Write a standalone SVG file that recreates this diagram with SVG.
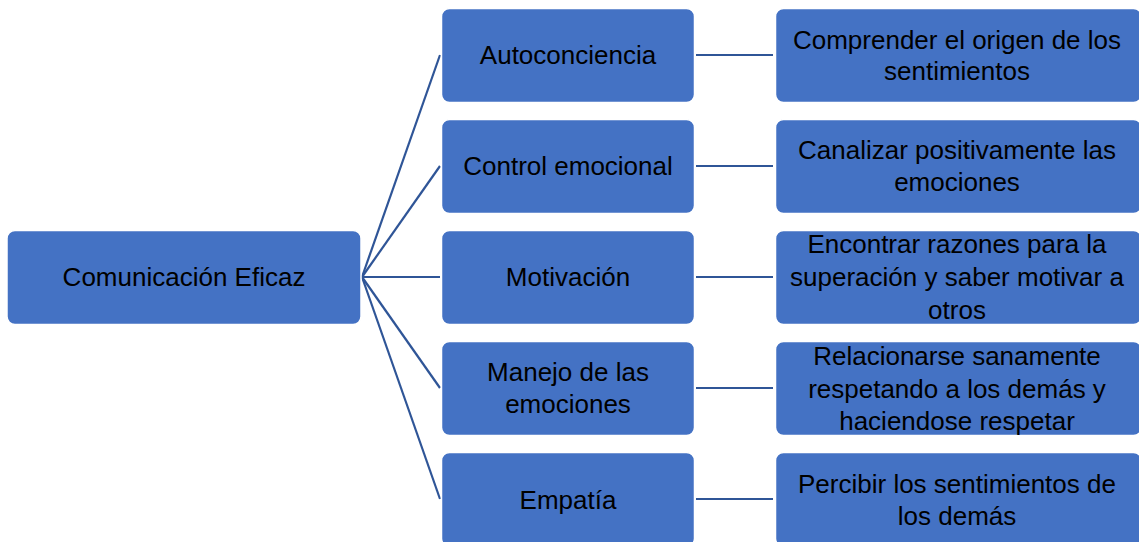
<svg xmlns="http://www.w3.org/2000/svg" width="1139" height="542" viewBox="0 0 1139 542">
<style>
.box{fill:#4472C4;stroke:#ffffff;stroke-width:1.5}
.t{font-family:"Liberation Sans",Arial,sans-serif;font-size:26px;fill:#000;text-anchor:middle}
.c{stroke:#2F5597;stroke-width:2.2;fill:none}
</style>
<rect width="1139" height="542" fill="#fff"/>
<g id="connectors">
<line class="c" x1="362" y1="277" x2="440" y2="55"/>
<line class="c" x1="362" y1="277" x2="440" y2="166"/>
<line class="c" x1="362" y1="277" x2="440" y2="277"/>
<line class="c" x1="362" y1="277" x2="440" y2="388"/>
<line class="c" x1="362" y1="277" x2="440" y2="499"/>
<line class="c" x1="696" y1="55" x2="773" y2="55"/>
<line class="c" x1="696" y1="166" x2="773" y2="166"/>
<line class="c" x1="696" y1="277" x2="773" y2="277"/>
<line class="c" x1="696" y1="388" x2="773" y2="388"/>
<line class="c" x1="696" y1="499" x2="773" y2="499"/>
</g>
<g id="n-root"><rect class="box" x="7" y="230.5" width="354" height="94" rx="8"/><text class="t" x="184" y="286">Comunicación Eficaz</text></g>
<g id="n-auto"><rect class="box" x="441.5" y="8.5" width="253" height="94" rx="8"/><text class="t" x="568" y="64">Autoconciencia</text></g>
<g id="n-control"><rect class="box" x="441.5" y="119.5" width="253" height="94" rx="8"/><text class="t" x="568" y="175">Control emocional</text></g>
<g id="n-motiv"><rect class="box" x="441.5" y="230.5" width="253" height="94" rx="8"/><text class="t" x="568" y="286">Motivación</text></g>
<g id="n-manejo"><rect class="box" x="441.5" y="341.5" width="253" height="94" rx="8"/><text class="t" x="568" y="381">Manejo de las</text><text class="t" x="568" y="413">emociones</text></g>
<g id="n-empatia"><rect class="box" x="441.5" y="452.5" width="253" height="94" rx="8"/><text class="t" x="568" y="509">Empatía</text></g>
<g id="n-r1"><rect class="box" x="775.5" y="8.5" width="366" height="94" rx="8"/><text class="t" x="957" y="49">Comprender el origen de los</text><text class="t" x="957" y="80">sentimientos</text></g>
<g id="n-r2"><rect class="box" x="775.5" y="119.5" width="366" height="94" rx="8"/><text class="t" x="957" y="159">Canalizar positivamente las</text><text class="t" x="957" y="191">emociones</text></g>
<g id="n-r3"><rect class="box" x="775.5" y="230.5" width="366" height="94" rx="8"/><text class="t" x="957" y="253">Encontrar razones para la</text><text class="t" x="957" y="286">superación y saber motivar a</text><text class="t" x="957" y="319">otros</text></g>
<g id="n-r4"><rect class="box" x="775.5" y="341.5" width="366" height="94" rx="8"/><text class="t" x="957" y="365">Relacionarse sanamente</text><text class="t" x="957" y="398">respetando a los demás y</text><text class="t" x="957" y="430">haciendose respetar</text></g>
<g id="n-r5"><rect class="box" x="775.5" y="452.5" width="366" height="94" rx="8"/><text class="t" x="957" y="493">Percibir los sentimientos de</text><text class="t" x="957" y="525">los demás</text></g>
</svg>
